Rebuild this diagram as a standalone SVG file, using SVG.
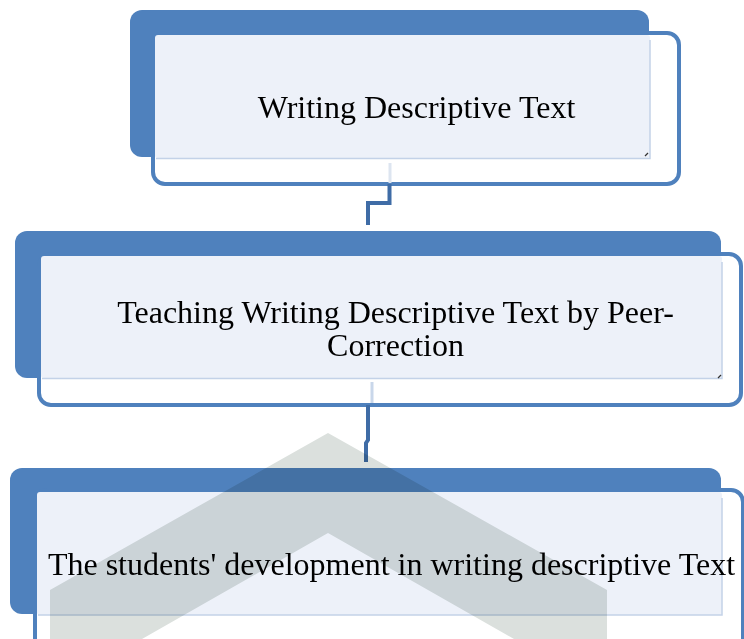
<svg xmlns="http://www.w3.org/2000/svg" width="744" height="639" viewBox="0 0 744 639">
<style>
.back{fill:#4f81bd}
.outline{fill:#ffffff;stroke:#4f81bd;stroke-width:4}
.face{fill:#edf1f9}
.edge{fill:none;stroke:#c3d2e8;stroke-width:1.5}
.lbl{font-family:"Liberation Serif","Times New Roman",serif;font-size:32px;fill:#000;text-anchor:middle}
.conn{fill:none;stroke:#3f6ca6;stroke-width:4;stroke-linejoin:miter}
.ghost{fill:none;stroke:#dde5f0;stroke-width:3}
.mark{fill:none;stroke:#333;stroke-width:1.2}
.wm{fill:#dbe0dd;mix-blend-mode:multiply}
</style>
<rect width="744" height="639" fill="#ffffff"/>
<g id="node1">
<rect class="back" x="130" y="10" width="519" height="147" rx="12"/>
<rect class="outline" x="153" y="33" width="526" height="151" rx="12"/>
<rect class="face" x="155" y="35" width="495" height="123" rx="3"/>
<path class="edge" d="M156 158.5 H650 V40"/>
<path class="mark" d="M645 156 L648 153"/>
<text class="lbl" x="416.5" y="118">Writing Descriptive Text</text>
</g>
<g id="node2">
<rect class="back" x="15" y="231" width="706" height="147" rx="12"/>
<rect class="outline" x="39" y="254" width="702" height="151" rx="12"/>
<rect class="face" x="41" y="256" width="681" height="122" rx="3"/>
<path class="edge" d="M42 378.5 H722 V262"/>
<path class="mark" d="M718 378 L721 375"/>
<text class="lbl" x="395.5" y="323">Teaching Writing Descriptive Text by Peer-</text>
<text class="lbl" x="395.5" y="356">Correction</text>
</g>
<g id="node3">
<rect class="back" x="10" y="468" width="711" height="146" rx="12"/>
<rect class="outline" x="35" y="490" width="708" height="170" rx="12"/>
<rect class="face" x="37" y="492" width="685" height="123" rx="3"/>
<path class="edge" d="M38 615 H722 V498"/>
<text class="lbl" x="391.5" y="575">The students' development in writing descriptive Text</text>
</g>
<g id="connectors">
<path class="ghost" d="M390 163 V183"/>
<path class="conn" d="M389.5 184 V203 H368 V225"/>
<path class="ghost" d="M372 382 V403" style="stroke:#c9d7ea"/>
<path class="conn" d="M368 405 V440 L366 443 V462"/>
</g>
<g id="watermark">
<polygon class="wm" points="50,590 328,433 607,590 607,639 514,639 328,533 142,639 50,639"/>
<line x1="328.5" y1="626" x2="328.5" y2="639" stroke="#ffffff" stroke-width="1.5"/>
</g>
</svg>
